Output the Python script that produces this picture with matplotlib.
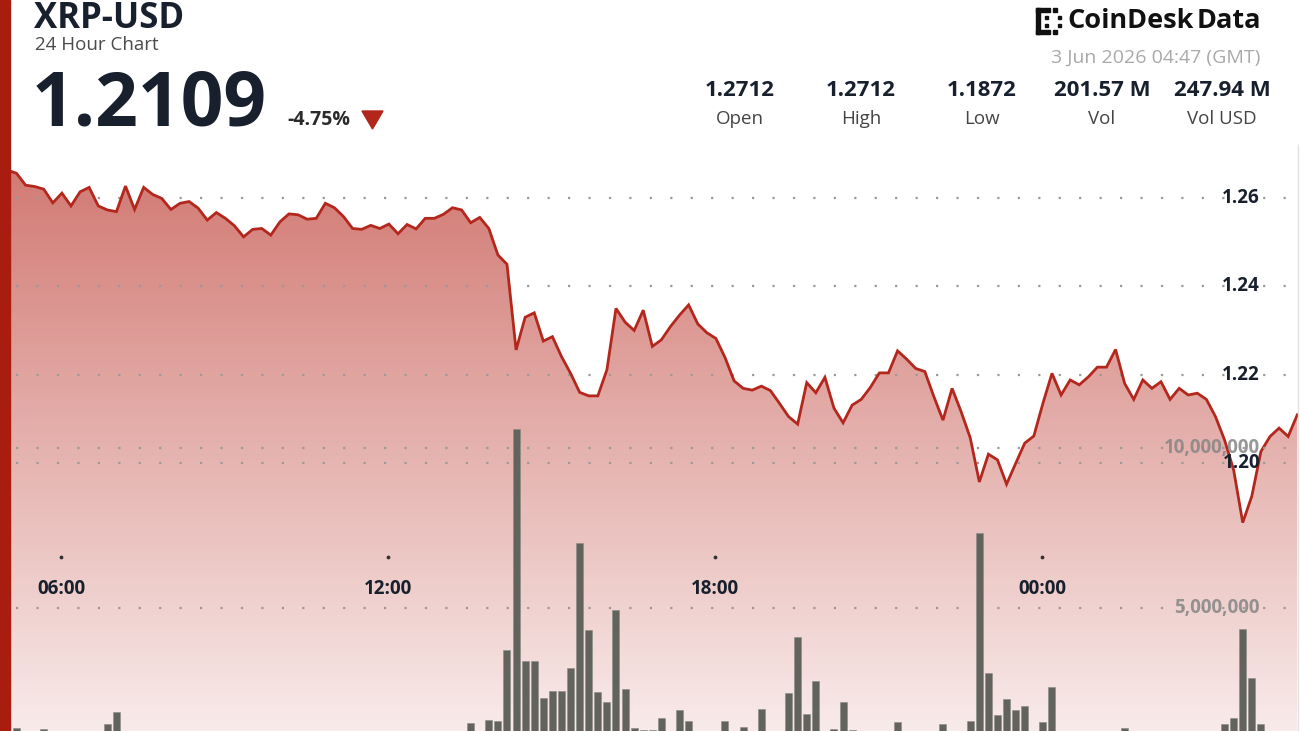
import numpy as np
import pandas as pd
import matplotlib
matplotlib.use("Agg")
import matplotlib.pyplot as plt
import matplotlib.dates as mdates
from matplotlib.patches import Rectangle, Polygon
from matplotlib.lines import Line2D

# ---- data (10 minute steps) ----
price = [
    1.2663, 1.2656, 1.2629, 1.2626, 1.2620, 1.2589, 1.2611, 1.2582, 1.2614, 1.2624,
    1.2582, 1.2573, 1.2569, 1.2627, 1.2574, 1.2624, 1.2608, 1.2599, 1.2574, 1.2588,
    1.2592, 1.2577, 1.2550, 1.2567, 1.2554, 1.2537, 1.2512, 1.2529, 1.2531, 1.2516,
    1.2546, 1.2564, 1.2562, 1.2552, 1.2554, 1.2588, 1.2578, 1.2558, 1.2531, 1.2529,
    1.2538, 1.2531, 1.2541, 1.2519, 1.2540, 1.2530, 1.2554, 1.2554, 1.2563, 1.2578,
    1.2573, 1.2544, 1.2556, 1.2531, 1.2471, 1.2450, 1.2256, 1.2330, 1.2340, 1.2276,
    1.2286, 1.2241, 1.2203, 1.2160, 1.2152, 1.2152, 1.2211, 1.2350, 1.2319, 1.2300,
    1.2346, 1.2264, 1.2279, 1.2309, 1.2335, 1.2358, 1.2315, 1.2295, 1.2282, 1.2239,
    1.2186, 1.2169, 1.2165, 1.2174, 1.2164, 1.2135, 1.2105, 1.2088, 1.2182, 1.2159,
    1.2194, 1.2124, 1.2091, 1.2131, 1.2144, 1.2171, 1.2204, 1.2204, 1.2254, 1.2235,
    1.2214, 1.2207, 1.2150, 1.2097, 1.2169, 1.2116, 1.2057, 1.1957, 1.2020, 1.2007,
    1.1952, 1.1999, 1.2045, 1.2061, 1.2135, 1.2203, 1.2154, 1.2188, 1.2177, 1.2195,
    1.2217, 1.2217, 1.2257, 1.2180, 1.2144, 1.2188, 1.2169, 1.2184, 1.2144, 1.2169,
    1.2154, 1.2158, 1.2144, 1.2105, 1.2052, 1.1984, 1.1865, 1.1925, 1.2026, 1.2060,
    1.2079, 1.2060, 1.2109,
]

# volume in millions (bars under ~1.1M fall below the visible crop)
volume_m = [
    0.8, 1.25, 0.8, 0.8, 1.23, 1.16, 0.8, 0.8, 0.8, 0.8,
    0.8, 1.39, 1.76, 0.8, 0.8, 0.8, 0.8, 0.8, 0.8, 0.8,
    0.8, 0.8, 0.8, 0.8, 0.8, 0.8, 1.1, 0.8, 0.8, 0.8,
    0.8, 0.8, 0.8, 0.8, 0.8, 0.8, 0.8, 0.8, 0.8, 0.8,
    0.8, 0.8, 0.8, 0.8, 0.8, 0.8, 0.8, 0.8, 0.8, 0.8,
    0.8, 1.4, 1.0, 1.5, 1.47, 3.7, 10.6, 3.35, 3.35, 2.19,
    2.4, 2.4, 3.12, 7.03, 4.3, 2.39, 2.06, 4.95, 2.47, 1.26,
    1.2, 1.2, 1.57, 0.8, 1.8, 1.47, 0.8, 0.8, 0.8, 1.47,
    1.1, 1.28, 0.8, 1.84, 0.8, 0.8, 2.35, 4.1, 1.7, 2.72,
    0.8, 1.23, 2.06, 1.19, 1.1, 0.8, 0.8, 0.8, 1.44, 0.8,
    0.8, 0.8, 0.8, 1.36, 0.8, 0.8, 1.47, 7.34, 2.98, 1.66,
    2.16, 1.8, 1.94, 0.8, 1.44, 2.53, 1.1, 0.8, 0.8, 0.8,
    1.05, 0.8, 0.8, 1.25, 0.8, 0.8, 0.8, 0.8, 0.8, 0.8,
    0.8, 0.8, 0.8, 0.8, 1.37, 1.57, 4.34, 2.8, 1.37, 0.8,
    0.8, 0.8, 0.8,
]

times = pd.date_range("2026-06-02 05:01", periods=len(price), freq="10min")
tick_times = pd.to_datetime(["2026-06-02 06:00", "2026-06-02 12:00",
                             "2026-06-02 18:00", "2026-06-03 00:00"])
tick_labels = ["06:00", "12:00", "18:00", "00:00"]
price_ticks = [1.20, 1.22, 1.24, 1.26]
vol_ticks = [5_000_000, 10_000_000]
vol_tick_labels = ["5,000,000", "10,000,000"]
stat_values = ["1.2712", "1.2712", "1.1872", "201.57 M", "247.94 M"]
stat_names = ["Open", "High", "Low", "Vol", "Vol USD"]

W, H = 1300, 731
NAVY = "#18202d"
LINE_RED = "#b3271d"
BAR_RED = "#a91c10"


def fx(px):
    return px / W


def fy(py):
    return 1 - py / H


fig = plt.figure(figsize=(W / 100, H / 100), dpi=100)
fig.patch.set_facecolor("white")

# axes runs from pixel row 150 down to 768 (below the crop), full width
ax_top, ax_bot = 150, 768
ax = fig.add_axes([0, (H - ax_bot) / H, 1, (ax_bot - ax_top) / H])
ax2 = ax.twinx()

base = pd.Timestamp("2026-06-02 06:00")
px_hour = 54.5
x0 = base - pd.Timedelta(hours=61 / px_hour)
x1 = base + pd.Timedelta(hours=(W - 61) / px_hour)

per_px = 0.02 / 88.33
y_top = 1.26 + (198 - ax_top) * per_px
y_bot = 1.26 - (ax_bot - 198) * per_px

# gradient fill under the price line
poly = ax.fill_between(times, price, y_bot, facecolor="none", edgecolor="none")
rows = np.arange(ax_top, ax_bot)
alpha = np.clip(0.62 - (rows - 170) * (0.56 / 598), 0.04, 1)
grad = np.zeros((len(rows), 2, 4))
grad[..., 0] = 0.72
grad[..., 1] = 0.16
grad[..., 2] = 0.12
grad[..., 3] = alpha[:, None]
im = ax.imshow(grad, extent=[mdates.date2num(x0), mdates.date2num(x1), y_bot, y_top],
               aspect="auto", origin="upper", zorder=1, interpolation="bilinear")
im.set_clip_path(poly.get_paths()[0], transform=ax.transData)

ax.plot(times, price, color=LINE_RED, lw=2.0, zorder=3, solid_joinstyle="miter")

# dotted grid lines
for p in price_ticks:
    ax.axhline(p, color="#9a9a9a", lw=1.6, linestyle=(2, (1, 8.2)), zorder=2)
    ax.text(1260 / W, p, f"{p:.2f}", transform=ax.get_yaxis_transform(),
            ha="right", va="center", fontsize=13.5, fontweight="bold",
            color=NAVY, family="Open Sans", zorder=6)

for v, lab in zip(vol_ticks, vol_tick_labels):
    ax2.axhline(v, color="#9a9a9a", lw=1.6, linestyle=(2, (1, 8.2)), zorder=2)
    ax2.text(1260 / W, v, lab, transform=ax2.get_yaxis_transform(),
             ha="right", va="center", fontsize=13.5, fontweight="bold",
             color="#868686", alpha=0.85, family="Open Sans", zorder=6)

ax2.bar(times, np.array(volume_m) * 1e6, width=7 / px_hour / 24,
        color="#62635c", edgecolor="#8a8b84", linewidth=0.4, zorder=3)

# time axis: small dots and labels inside the plot
ax.scatter(tick_times, [(ax_bot - 557) / (ax_bot - ax_top)] * len(tick_times),
           transform=ax.get_xaxis_transform(), s=3, color="#333333", zorder=6)
for t, lab in zip(tick_times, tick_labels):
    ax.text(t, (ax_bot - 589) / (ax_bot - ax_top), lab, transform=ax.get_xaxis_transform(),
            ha="center", va="center", fontsize=13.5, fontweight="bold",
            color=NAVY, family="Open Sans", zorder=6)

for a in (ax, ax2):
    a.set_xlim(x0, x1)
    a.axis("off")
ax.set_ylim(y_bot, y_top)
ax2.set_ylim(0, (ax_bot - ax_top) / 32 * 1e6)

# left red bar and right border
fig.add_artist(Rectangle((0, 0), fx(10), 1, transform=fig.transFigure,
                         color=BAR_RED, zorder=10))
fig.add_artist(Line2D([fx(1298), fx(1298)], [0, fy(145)], transform=fig.transFigure,
                      color="#e2e2e2", lw=1, zorder=10))

# header
fig.text(fx(34), fy(28), "XRP-USD", fontsize=25, fontweight="bold", color=NAVY,
         family="Open Sans", va="baseline", ha="left")
fig.text(fx(35), fy(45), "24 Hour Chart", fontsize=13.5, color="#4a4a4a",
         family="Open Sans", va="center", ha="left")
fig.text(fx(32), fy(106), "1.2109", fontsize=54, fontweight="bold", color=NAVY,
         family="Open Sans", va="center", ha="left")
fig.text(fx(287), fy(120), "-4.75%", fontsize=14, fontweight="bold", color="#2a2a2a",
         family="Open Sans", va="center", ha="left")
fig.add_artist(Polygon([(fx(362), fy(111)), (fx(383), fy(111)), (fx(372.5), fy(129))],
                       closed=True, transform=fig.transFigure, color="#b3261a"))

# logo
for (lx, ly, lw_, lh) in [(1036, 8, 4, 26), (1036, 8, 14, 4), (1036, 30, 14, 4),
                          (1053, 8, 4, 4), (1053, 30, 4, 4), (1045, 16, 3, 3),
                          (1045, 24, 3, 3), (1058, 16, 3, 3), (1058, 24, 3, 3)]:
    fig.add_artist(Rectangle((fx(lx), fy(ly + lh)), lw_ / W, lh / H,
                             transform=fig.transFigure, color="#111111"))
fig.text(fx(1067), fy(21), "CoinDesk", fontsize=19.5, fontweight="bold", color="#111111",
         family="Open Sans", va="center", ha="left")
fig.text(fx(1261), fy(21), "Data", fontsize=19.5, fontweight="bold", color="#111111",
         family="Open Sans", va="center", ha="right")
fig.text(fx(1260), fy(58), "3 Jun 2026 04:47 (GMT)", fontsize=14, color="#a9a9a9",
         family="Open Sans", va="center", ha="right")

centers = [740, 861, 982, 1102, 1222]
for cx, val, name in zip(centers, stat_values, stat_names):
    fig.text(fx(cx), fy(90), val, fontsize=16, fontweight="bold", color=NAVY,
             family="Open Sans", va="center", ha="center")
    fig.text(fx(cx), fy(119), name, fontsize=13.5, color="#444444",
             family="Open Sans", va="center", ha="center")

fig.savefig("out.png", dpi=100)
